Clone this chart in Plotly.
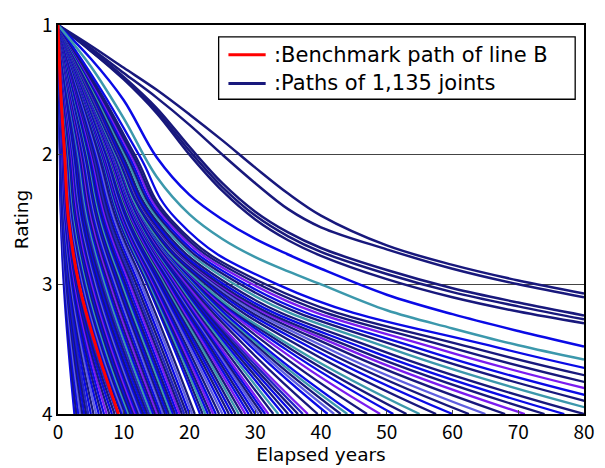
import plotly.graph_objects as go

# ---------------- data ----------------
# Rating levels at which crossing years are read (path starts at rating 1, year 0)
rating_levels = [1.0, 1.5, 2.0, 2.5, 3.0, 3.5, 4.0]

x_tick_vals = [0, 10, 20, 30, 40, 50, 60, 70, 80]
y_tick_vals = [1, 2, 3, 4]

# Benchmark path of line B: years at which ratings 1.5, 2, 2.5, 3, 3.5, 4 are reached
benchmark_years = [0.4, 1.0, 1.6, 3.2, 5.9, 9.2]

# Slowest joint paths, read as ratings at fixed elapsed years
upper_grid_years = [0, 5, 10, 15, 20, 25, 30, 35, 40, 50, 60, 70, 80]
upper_ratings = [
    [1.0, 1.16, 1.33, 1.50, 1.69, 1.89, 2.10, 2.30, 2.47, 2.70, 2.85, 2.97, 3.07],
    [1.0, 1.18, 1.37, 1.56, 1.77, 2.00, 2.22, 2.42, 2.56, 2.73, 2.88, 3.00, 3.10],
    [1.0, 1.20, 1.42, 1.68, 2.00, 2.28, 2.50, 2.66, 2.78, 2.96, 3.10, 3.21, 3.30],
    [1.0, 1.20, 1.41, 1.66, 1.97, 2.25, 2.47, 2.63, 2.75, 2.92, 3.06, 3.17, 3.27],
    [1.0, 1.19, 1.40, 1.64, 1.94, 2.22, 2.44, 2.60, 2.72, 2.89, 3.03, 3.14, 3.24],
    [1.0, 1.26, 1.58, 2.02, 2.31, 2.50, 2.65, 2.77, 2.88, 3.08, 3.23, 3.36, 3.48],
    [1.0, 1.32, 1.72, 2.17, 2.46, 2.65, 2.79, 2.90, 3.00, 3.20, 3.34, 3.47, 3.58],
]

# Bulk of the joint paths: years at ratings 1.5, 2, 2.5, 3, 3.5, 4
band_years = [
    [0.12, 0.28, 0.45, 0.88, 1.6, 2.5],
    [0.13, 0.31, 0.5, 0.98, 1.76, 2.8],
    [0.14, 0.34, 0.56, 1.09, 1.95, 3.1],
    [0.15, 0.37, 0.61, 1.19, 2.14, 3.4],
    [0.17, 0.41, 0.67, 1.3, 2.33, 3.7],
    [0.18, 0.44, 0.72, 1.4, 2.52, 4.0],
    [0.19, 0.47, 0.77, 1.5, 2.7, 4.3],
    [0.21, 0.51, 0.83, 1.61, 2.9, 4.6],
    [0.23, 0.55, 0.9, 1.75, 3.15, 5.0],
    [0.24, 0.59, 0.97, 1.89, 3.4, 5.4],
    [0.26, 0.64, 1.04, 2.03, 3.65, 5.8],
    [0.28, 0.68, 1.12, 2.17, 3.9, 6.2],
    [0.3, 0.73, 1.19, 2.31, 4.16, 6.6],
    [0.32, 0.77, 1.26, 2.45, 4.41, 7.0],
    [0.33, 0.81, 1.33, 2.59, 4.66, 7.4],
    [0.35, 0.86, 1.4, 2.73, 4.91, 7.8],
    [0.37, 0.9, 1.48, 2.87, 5.17, 8.2],
    [0.39, 0.95, 1.55, 3.01, 5.42, 8.6],
    [0.41, 0.99, 1.62, 3.15, 5.67, 9.0],
    [0.5, 1.19, 1.9, 3.55, 6.18, 9.6],
    [0.53, 1.26, 2.0, 3.69, 6.36, 9.8],
    [0.57, 1.33, 2.1, 3.83, 6.53, 10.0],
    [0.61, 1.43, 2.23, 4.01, 6.76, 10.25],
    [0.66, 1.52, 2.36, 4.2, 6.98, 10.5],
    [0.7, 1.62, 2.5, 4.39, 7.21, 10.75],
    [0.75, 1.72, 2.64, 4.58, 7.44, 11.0],
    [0.8, 1.83, 2.78, 4.78, 7.68, 11.25],
    [0.85, 1.94, 2.93, 4.98, 7.92, 11.5],
    [0.91, 2.05, 3.08, 5.19, 8.16, 11.75],
    [0.96, 2.16, 3.24, 5.4, 8.4, 12.0],
    [1.01, 2.26, 3.38, 5.59, 8.63, 12.25],
    [1.06, 2.36, 3.52, 5.78, 8.86, 12.5],
    [1.12, 2.46, 3.66, 5.98, 9.09, 12.75],
    [1.17, 2.57, 3.8, 6.18, 9.33, 13.0],
    [1.24, 2.7, 3.98, 6.42, 9.61, 13.3],
    [1.31, 2.83, 4.16, 6.66, 9.9, 13.6],
    [1.38, 2.96, 4.35, 6.92, 10.19, 13.9],
    [1.45, 3.1, 4.54, 7.17, 10.49, 14.2],
    [1.52, 3.24, 4.73, 7.43, 10.78, 14.5],
    [1.6, 3.39, 4.93, 7.7, 11.09, 14.8],
    [1.68, 3.54, 5.13, 7.97, 11.39, 15.1],
    [1.76, 3.69, 5.34, 8.24, 11.7, 15.4],
    [1.84, 3.84, 5.55, 8.52, 12.01, 15.7],
    [1.92, 4.0, 5.76, 8.8, 12.32, 16.0],
    [1.99, 4.12, 5.94, 9.04, 12.6, 16.3],
    [2.06, 4.25, 6.12, 9.29, 12.88, 16.6],
    [2.13, 4.38, 6.3, 9.54, 13.17, 16.9],
    [2.21, 4.51, 6.48, 9.79, 13.45, 17.2],
    [2.28, 4.64, 6.67, 10.05, 13.74, 17.5],
    [2.36, 4.77, 6.86, 10.3, 14.03, 17.8],
    [2.45, 4.93, 7.08, 10.61, 14.37, 18.15],
    [2.54, 5.09, 7.31, 10.92, 14.71, 18.5],
    [2.64, 5.25, 7.54, 11.23, 15.05, 18.85],
    [2.73, 5.41, 7.77, 11.54, 15.4, 19.2],
    [2.85, 5.61, 8.04, 11.91, 15.8, 19.6],
    [2.96, 5.8, 8.32, 12.28, 16.2, 20.0],
    [3.08, 6.0, 8.6, 12.66, 16.61, 20.4],
    [3.19, 6.2, 8.89, 13.04, 17.01, 20.8],
    [3.33, 6.44, 9.23, 13.54, 17.67, 21.6],
    [3.37, 6.53, 9.36, 13.74, 17.97, 22.0],
    [3.42, 6.62, 9.49, 13.94, 18.26, 22.4],
    [3.47, 6.7, 9.62, 14.14, 18.56, 22.8],
    [3.51, 6.79, 9.75, 14.33, 18.85, 23.2],
    [3.56, 6.88, 9.88, 14.53, 19.15, 23.6],
    [3.6, 6.96, 10.0, 14.72, 19.44, 24.0],
    [3.66, 7.06, 10.15, 14.96, 19.8, 24.5],
    [3.71, 7.17, 10.31, 15.2, 20.17, 25.0],
    [3.76, 7.27, 10.46, 15.43, 20.53, 25.5],
    [3.81, 7.37, 10.6, 15.66, 20.89, 26.0],
    [3.86, 7.46, 10.75, 15.88, 21.24, 26.5],
    [3.92, 7.56, 10.89, 16.11, 21.6, 27.0],
    [3.97, 7.65, 11.03, 16.33, 21.95, 27.5],
    [4.01, 7.75, 11.17, 16.55, 22.31, 28.0],
    [4.06, 7.84, 11.31, 16.77, 22.66, 28.5],
    [4.11, 7.93, 11.44, 16.98, 23.01, 29.0],
    [4.15, 8.01, 11.57, 17.19, 23.35, 29.5],
    [4.2, 8.1, 11.7, 17.4, 23.7, 30.0],
    [4.22, 8.16, 11.79, 17.57, 24.0, 30.5],
    [4.25, 8.22, 11.87, 17.73, 24.3, 31.0],
    [4.27, 8.27, 11.95, 17.89, 24.6, 31.5],
    [4.29, 8.32, 12.03, 18.05, 24.9, 32.0],
    [4.32, 8.39, 12.14, 18.27, 25.33, 32.75],
    [4.34, 8.46, 12.24, 18.49, 25.76, 33.5],
    [4.36, 8.52, 12.34, 18.7, 26.18, 34.25],
    [4.38, 8.58, 12.43, 18.9, 26.6, 35.0],
    [4.39, 8.63, 12.5, 19.09, 27.01, 35.75],
    [4.4, 8.67, 12.57, 19.27, 27.41, 36.5],
    [4.41, 8.71, 12.64, 19.44, 27.81, 37.25],
    [4.41, 8.74, 12.69, 19.61, 28.2, 38.0],
    [4.4, 8.79, 12.78, 19.91, 28.95, 39.5],
    [4.43, 8.86, 12.9, 20.23, 29.74, 41.0],
    [4.45, 8.9, 12.99, 20.44, 30.27, 42.0],
    [4.47, 8.94, 13.07, 20.64, 30.79, 43.0],
    [4.49, 8.98, 13.14, 20.83, 31.3, 44.0],
    [4.5, 9.0, 13.2, 21.0, 31.8, 45.0],
    [4.51, 9.02, 13.29, 21.31, 32.77, 47.0],
    [4.51, 9.02, 13.33, 21.56, 33.71, 49.0],
    [4.49, 8.98, 13.33, 21.76, 34.61, 51.0],
    [4.45, 8.9, 13.29, 21.91, 35.47, 53.0],
    [4.4, 8.8, 13.2, 22.0, 36.3, 55.0],
    [4.49, 8.95, 13.44, 22.5, 37.59, 57.5],
    [4.58, 9.08, 13.65, 22.95, 38.85, 60.0],
    [4.65, 9.18, 13.83, 23.36, 40.08, 62.5],
    [4.71, 9.26, 13.98, 23.73, 41.28, 65.0],
    [4.78, 9.34, 14.11, 24.11, 42.67, 68.0],
    [4.83, 9.37, 14.2, 24.42, 44.02, 71.0],
    [4.87, 9.38, 14.25, 24.68, 45.33, 74.0],
    [4.97, 9.55, 14.48, 25.23, 46.88, 77.0],
    [5.11, 9.79, 14.82, 25.94, 48.57, 80.0],
    [5.28, 10.11, 15.25, 26.85, 50.81, 84.0],
    [5.46, 10.41, 15.64, 27.73, 53.03, 88.0],
    [5.62, 10.7, 16.0, 28.57, 55.23, 92.0],
    [5.82, 11.03, 16.41, 29.57, 57.95, 97.0],
    [6.0, 11.33, 16.79, 30.51, 60.65, 102.0],
    [6.21, 11.66, 17.16, 31.56, 63.84, 108.0],
    [6.56, 12.3, 18.06, 33.35, 67.85, 115.0],
]

legend_labels = [":Benchmark path of line B", ":Paths of 1,135 joints"]

# ---------------- styles ----------------
palette = {
    "N": "#18187c",   # navy
    "B": "#0a0ae6",   # bright blue
    "M": "#2323c4",   # medium blue
    "S": "#5e5ee0",   # slate blue
    "P": "#7a1cf0",   # violet
    "T": "#3c98ac",   # teal
}
band_color_codes = (
    "BNBSNBNMBNSBNBPNBNM"
    "NBSNBTNBNPBNSBNBNMT"
    "BNPNBSNBNTBNBPNMNBS"
    "NBNTBNPBNSBNBNTNPBN"
    "BSNBPNTBNBNMPNBSNTB"
    "NPBNTNBNSNPNBNTNBPN"
    "NBNPN"
)
upper_color_codes = "NNNNNBT"
RED = "#ff0000"

TICK_FONT = "Noto Sans CJK JP"
TEXT_FONT = "DejaVu Sans"

# plot-area geometry in pixels (used to place the hand-drawn legend)
W, H = 605, 468
ML, MR, MT, MB = 58, 10, 22, 53
PW, PH = W - ML - MR, H - MT - MB

def px_to_paper(px, py):
    return (px - ML) / PW, (H - MB - py) / PH

fig = go.Figure()

for i, yrs in enumerate(band_years):
    fig.add_trace(go.Scatter(
        x=[0.0] + list(yrs), y=rating_levels, mode="lines",
        line=dict(color=palette[band_color_codes[i % len(band_color_codes)]], width=2.3,
                  shape="spline", smoothing=1.3),
        showlegend=False, hoverinfo="skip",
    ))

for i, rts in enumerate(upper_ratings):
    fig.add_trace(go.Scatter(
        x=upper_grid_years, y=rts, mode="lines",
        line=dict(color=palette[upper_color_codes[i]], width=2.5, shape="spline", smoothing=1.0),
        showlegend=False, hoverinfo="skip",
    ))

fig.add_trace(go.Scatter(
    x=[0.0] + list(benchmark_years), y=rating_levels, mode="lines",
    line=dict(color=RED, width=3, shape="spline", smoothing=1.0),
    showlegend=False, hoverinfo="skip",
))

# ---- legend (drawn as shapes + text for exact placement) ----
bx0, by0 = px_to_paper(222, 97)
bx1, by1 = px_to_paper(586, 34)
shapes = [dict(type="rect", xref="paper", yref="paper", x0=bx0, y0=by0, x1=bx1, y1=by1,
               line=dict(color="black", width=1.3), fillcolor="white", layer="above")]
annotations = []
for label, color, py in [(legend_labels[0], RED, 52), (legend_labels[1], palette["N"], 81)]:
    lx0, ly = px_to_paper(232, py)
    lx1, _ = px_to_paper(270, py)
    shapes.append(dict(type="line", xref="paper", yref="paper", x0=lx0, x1=lx1, y0=ly, y1=ly,
                       line=dict(color=color, width=3), layer="above"))
    tx, _ = px_to_paper(276, py)
    annotations.append(dict(xref="paper", yref="paper", x=tx, y=ly, xanchor="left", yanchor="middle",
                            text=label, showarrow=False,
                            font=dict(size=21, family=TEXT_FONT, color="black")))

fig.update_layout(
    width=W, height=H,
    margin=dict(l=ML, r=MR, t=MT, b=MB),
    paper_bgcolor="white", plot_bgcolor="white",
    font=dict(family=TEXT_FONT, color="black"),
    showlegend=False,
    shapes=shapes, annotations=annotations,
)
fig.update_xaxes(
    range=[0, 80], tickvals=x_tick_vals, ticks="inside", ticklen=4,
    showline=True, mirror=True, linecolor="black", linewidth=1.5,
    showgrid=False, zeroline=False,
    tickfont=dict(size=19, family=TICK_FONT),
    title=dict(text="Elapsed years", font=dict(size=18.5, family=TEXT_FONT), standoff=2),
)
fig.update_yaxes(
    range=[4, 1], tickvals=y_tick_vals, ticks="inside", ticklen=4,
    showline=True, mirror=True, linecolor="black", linewidth=1.5,
    showgrid=True, gridcolor="#444444", gridwidth=1, zeroline=False,
    tickfont=dict(size=19, family=TICK_FONT),
    title=dict(text="Rating", font=dict(size=18.5, family=TEXT_FONT), standoff=8),
)

fig.write_html("out.html")
